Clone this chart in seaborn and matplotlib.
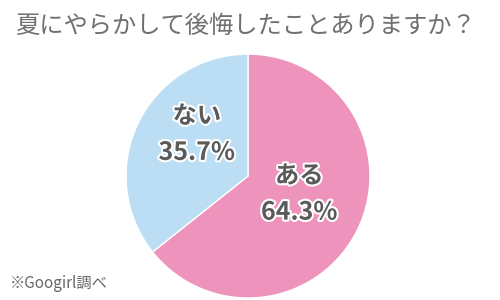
import matplotlib
matplotlib.use("Agg")
import matplotlib.pyplot as plt
import matplotlib.patheffects as pe
import seaborn as sns

# data
answers = ["ある", "ない"]
shares = [64.3, 35.7]
slice_colors = ["#ee93bb", "#bcdef4"]

title = "夏にやらかして後悔したことありますか？"
source_note = "※Googirl調べ"

sns.set_theme(style="white")
plt.rcParams["font.family"] = ["Noto Sans CJK JP", "DejaVu Sans"]

fig = plt.figure(figsize=(5.0, 3.0), dpi=100)
ax = fig.add_axes([0.252, 0.0067, 0.488, 0.813])

wedges, _ = ax.pie(
    shares,
    colors=slice_colors,
    startangle=90,
    counterclock=False,
    wedgeprops=dict(edgecolor="white", linewidth=1.0),
)
ax.set_aspect("equal")
ax.set_xlim(-1, 1)
ax.set_ylim(-1, 1)

# label placement inside each slice (relative to the unit pie)
label_pos = [(0.42, -0.15), (-0.42, 0.34)]
outline = [pe.withStroke(linewidth=3, foreground="white")]
for name, val, (x, y) in zip(answers, shares, label_pos):
    ax.text(x, y + 0.15, name, ha="center", va="center", fontsize=17.5,
            color="#5a5a5a", fontweight="bold", path_effects=outline)
    ax.text(x, y - 0.15, f"{val:.1f}%", ha="center", va="center", fontsize=18,
            color="#5a5a5a", fontweight="bold", path_effects=outline)

fig.text(0.03, 0.915, title, ha="left", va="center", fontsize=17.5,
         color="#707070")
fig.text(0.02, 0.055, source_note, ha="left", va="center", fontsize=11,
         color="#666666")

fig.savefig("out.png", dpi=100)
